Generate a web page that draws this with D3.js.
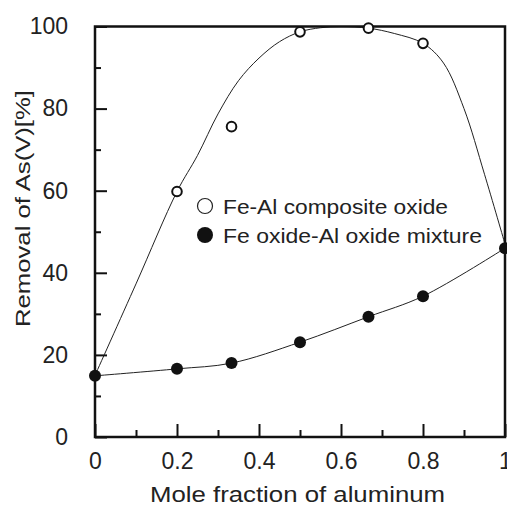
<!DOCTYPE html>
<html>
<head>
<meta charset="utf-8">
<script src="https://cdn.jsdelivr.net/npm/d3@7"></script>
<style>
  html, body { margin: 0; padding: 0; background: #fff; }
  svg { display: block; }
  text { font-family: "Liberation Sans", Arial, sans-serif; fill: #222; }
</style>
</head>
<body>
<svg id="chart" width="507" height="507"></svg>
<script>
// Measured removal of As(V) vs. mole fraction of aluminium
const fractions = [0, 0.2, 0.333, 0.5, 0.667, 0.8, 1.0];
const compositeValues = [59.8, 75.6, 98.7, 99.6, 95.9];       // Fe-Al composite oxide (x = 0.2 ... 0.8)
const compositeFractions = [0.2, 0.333, 0.5, 0.667, 0.8];
const mixtureValues = [14.9, 16.6, 18.0, 23.1, 29.3, 34.3, 46.0]; // Fe oxide-Al oxide mixture

// Fitted trend for the composite oxide
const fitFractions = [0, 0.1, 0.2, 0.25, 0.3, 0.35, 0.4, 0.45, 0.5, 0.55, 0.6, 0.667, 0.73, 0.8, 0.85, 0.9, 0.95, 1.0];
const fitValues    = [15, 37.3, 59.8, 68.6, 78.7, 86.8, 92.3, 96.3, 98.7, 99.7, 100, 99.6, 98.3, 95.9, 91.1, 80.0, 64.0, 47.0];

const xTicks = [0, 0.2, 0.4, 0.6, 0.8, 1];
const xTickLabels = ["0", "0.2", "0.4", "0.6", "0.8", "1"];
const xMinorTicks = [0.1, 0.3, 0.5, 0.7, 0.9];
const yTicks = [0, 20, 40, 60, 80, 100];
const yMinorTicks = [10, 30, 50, 70, 90];

const legendLabels = ["Fe-Al composite oxide", "Fe oxide-Al oxide mixture"];
const xTitle = "Mole fraction of aluminum";
const yTitle = "Removal of As(V)[%]";

const svg = d3.select("#chart");
const plotLeft = 95, plotRight = 505, plotTop = 26.5, plotBottom = 437;

const x = d3.scaleLinear().domain([0, 1]).range([plotLeft, plotRight]);
const y = d3.scaleLinear().domain([0, 100]).range([plotBottom, plotTop]);

// fitted curves
const line = d3.line().curve(d3.curveCatmullRom.alpha(0.5));
svg.append("path")
  .attr("d", line(fitFractions.map((f, i) => [x(f), y(fitValues[i])])))
  .attr("fill", "none").attr("stroke", "#222").attr("stroke-width", 1);
svg.append("path")
  .attr("d", line(fractions.map((f, i) => [x(f), y(mixtureValues[i])])))
  .attr("fill", "none").attr("stroke", "#222").attr("stroke-width", 1);

// frame
svg.append("rect")
  .attr("x", plotLeft).attr("y", plotTop)
  .attr("width", plotRight - plotLeft).attr("height", plotBottom - plotTop)
  .attr("fill", "none").attr("stroke", "#111").attr("stroke-width", 2.5);

// axes with inward ticks
const xAxis = svg.append("g").attr("transform", `translate(0,${plotBottom})`)
  .call(d3.axisBottom(x).tickValues(xTicks).tickSize(-13).tickPadding(26)
    .tickFormat((d, i) => xTickLabels[i]));
const xMinor = svg.append("g").attr("transform", `translate(0,${plotBottom})`)
  .call(d3.axisBottom(x).tickValues(xMinorTicks).tickSize(-7).tickFormat(""));
const yAxis = svg.append("g").attr("transform", `translate(${plotLeft},0)`)
  .call(d3.axisLeft(y).tickValues(yTicks).tickSize(-12).tickPadding(27));
const yMinor = svg.append("g").attr("transform", `translate(${plotLeft},0)`)
  .call(d3.axisLeft(y).tickValues(yMinorTicks).tickSize(-6).tickFormat(""));

[xAxis, xMinor, yAxis, yMinor].forEach(g => {
  g.select(".domain").remove();
  g.selectAll(".tick line").attr("stroke", "#111").attr("stroke-width", 2);
});
xAxis.selectAll(".tick text")
  .attr("font-size", 23).attr("fill", "#222")
  .attr("font-family", "Liberation Sans, Arial, sans-serif")
  .attr("dy", "0.25em");
yAxis.selectAll(".tick text")
  .attr("font-size", 23).attr("fill", "#222")
  .attr("font-family", "Liberation Sans, Arial, sans-serif");

// markers
svg.append("g").selectAll("circle").data(fractions).join("circle")
  .attr("cx", d => x(d)).attr("cy", (d, i) => y(mixtureValues[i]))
  .attr("r", 6).attr("fill", "#111");
svg.append("g").selectAll("circle").data(compositeFractions).join("circle")
  .attr("cx", d => x(d)).attr("cy", (d, i) => y(compositeValues[i]))
  .attr("r", 4.8).attr("fill", "#fff").attr("stroke", "#111").attr("stroke-width", 2);

// legend
const legend = svg.append("g");
legend.append("circle").attr("cx", 205).attr("cy", 206).attr("r", 7.5)
  .attr("fill", "#fff").attr("stroke", "#222").attr("stroke-width", 1.2);
legend.append("circle").attr("cx", 205).attr("cy", 235).attr("r", 8)
  .attr("fill", "#111");
legend.selectAll("text").data(legendLabels).join("text")
  .attr("x", 223).attr("y", (d, i) => 214 + i * 29)
  .attr("font-size", 19.5)
  .attr("textLength", (d, i) => [225, 259][i])
  .attr("lengthAdjust", "spacingAndGlyphs")
  .text(d => d);

// axis titles
svg.append("text")
  .attr("x", 150).attr("y", 502)
  .attr("font-size", 22.5)
  .attr("textLength", 295).attr("lengthAdjust", "spacingAndGlyphs")
  .text(xTitle);
svg.append("text")
  .attr("transform", "translate(29.5,327) rotate(-90)")
  .attr("font-size", 21)
  .attr("textLength", 237).attr("lengthAdjust", "spacingAndGlyphs")
  .text(yTitle);
</script>
</body>
</html>
